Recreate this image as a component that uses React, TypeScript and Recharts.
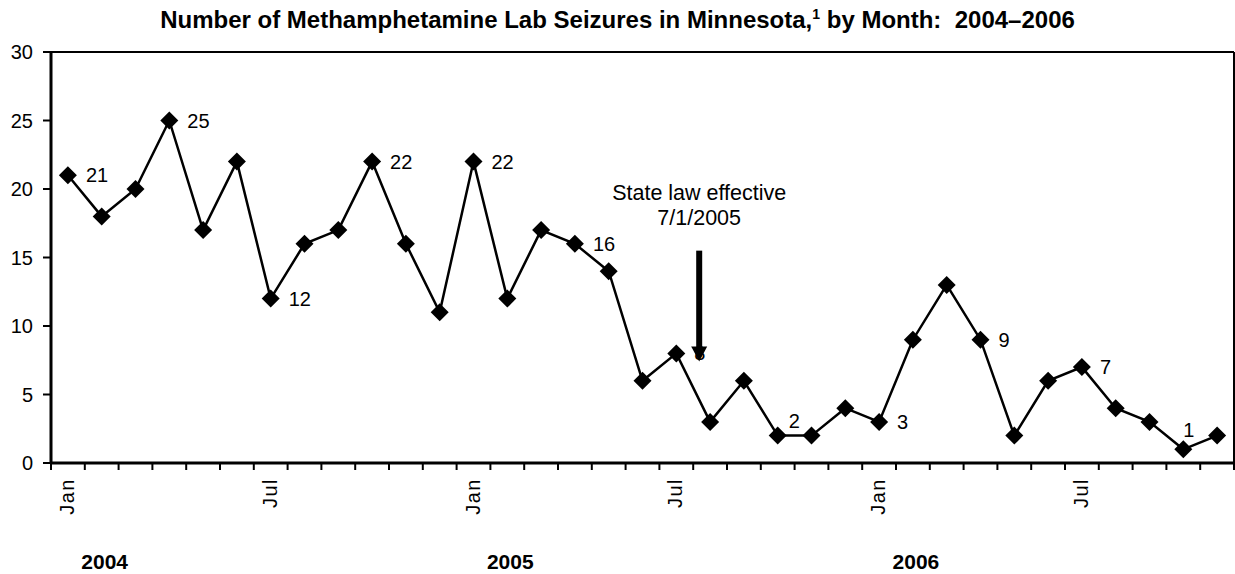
import { LabelList, Line, LineChart, ReferenceLine, XAxis, YAxis } from "recharts";

const MONTHS = ["Jan", "Feb", "Mar", "Apr", "May", "Jun", "Jul", "Aug", "Sep", "Oct", "Nov", "Dec"];
const YEARS = [2004, 2005, 2006];

const SEIZURES_2004 = [21, 18, 20, 25, 17, 22, 12, 16, 17, 22, 16, 11];
const SEIZURES_2005 = [22, 12, 17, 16, 14, 6, 8, 3, 6, 2, 2, 4];
const SEIZURES_2006 = [3, 9, 13, 9, 2, 6, 7, 4, 3, 1, 2];

const Y_TICKS = [0, 5, 10, 15, 20, 25, 30];
const TICK_MONTHS = ["Jan", "Jul"];
const LABELED_MONTHS = ["Jan", "Apr", "Jul", "Oct"];
const YEAR_LABEL_MONTH = "Feb";

const LAW_MONTH = "Jul 2005";
const LAW_TEXT = ["State law effective", "7/1/2005"];

const rows = YEARS.flatMap((year, yi) =>
  [SEIZURES_2004, SEIZURES_2005, SEIZURES_2006][yi].map((count, mi) => ({
    key: `${MONTHS[mi]} ${year}`,
    month: MONTHS[mi],
    year,
    count,
  })),
);
const LAST_KEY = rows[rows.length - 1].key;

const WIDTH = 1235;
const HEIGHT = 574;
const Y_AXIS_W = 51;
const X_AXIS_H = 111;
const FONT = '"Liberation Sans", Arial, sans-serif';
const HALF_BAND = (WIDTH - Y_AXIS_W - 1) / rows.length / 2;

// label nudges where the default right-hand spot would collide
const LABEL_NUDGE: Record<string, [number, number]> = {
  "Oct 2005": [11, -15],
  "Oct 2006": [0, -19],
};

function MonthTick(props: any) {
  const { x, y, payload } = props;
  const idx = rows.findIndex((r) => r.key === payload?.value);
  const row = rows[idx];
  if (!row) return null;
  const half = payload?.offset > 0 ? payload.offset : HALF_BAND;

  return (
    <g>
      <line x1={x - half} y1={y} x2={x - half} y2={y + 7} stroke="#000" strokeWidth={2} />
      {idx === rows.length - 1 ? (
        <line x1={x + half} y1={y} x2={x + half} y2={y + 7} stroke="#000" strokeWidth={2} />
      ) : null}
      {TICK_MONTHS.includes(row.month) ? (
        <text
          x={x + 6}
          y={y + 15}
          transform={`rotate(-90, ${x + 6}, ${y + 15})`}
          textAnchor="end"
          fontFamily={FONT}
          fontSize={20}
          letterSpacing={1.5}
          fill="#000"
        >
          {row.month}
        </text>
      ) : null}
      {row.month === YEAR_LABEL_MONTH ? (
        <text
          x={x + 3}
          y={y + 106}
          textAnchor="middle"
          fontFamily={FONT}
          fontSize={21}
          fontWeight="bold"
          fill="#000"
        >
          {row.year}
        </text>
      ) : null}
    </g>
  );
}

function Diamond(props: any) {
  const { cx, cy } = props;
  if (cx == null || cy == null) return null;
  const r = 9;
  return (
    <polygon
      points={`${cx},${cy - r} ${cx + r},${cy} ${cx},${cy + r} ${cx - r},${cy}`}
      fill="#000"
    />
  );
}

function renderCountLabel(props: any) {
  const { x, y, value, index } = props;
  const row = rows[index];
  if (!row || !LABELED_MONTHS.includes(row.month)) return null;
  const [dx, dy] = LABEL_NUDGE[row.key] ?? [18, 0];
  return (
    <text x={x + dx} y={y + dy} dy="0.35em" fontFamily={FONT} fontSize={20} fill="#000">
      {value}
    </text>
  );
}

function LawArrow(props: any) {
  const { x1: rawX, y1, y2 } = props;
  if (rawX == null) return null;
  // the law took effect on the 1st, so nudge the arrow a little past the Jul marker
  const x1 = rawX + 6;
  const head = 15;
  return (
    <g>
      <text x={x1} y={y1 - 51} textAnchor="middle" fontFamily={FONT} fontSize={21.5} fill="#000">
        {LAW_TEXT[0]}
      </text>
      <text x={x1} y={y1 - 26} textAnchor="middle" fontFamily={FONT} fontSize={21.5} fill="#000">
        {LAW_TEXT[1]}
      </text>
      <rect x={x1 - 3} y={y1} width={6} height={y2 - y1 - head + 1} fill="#000" />
      <polygon
        points={`${x1 - 8},${y2 - head} ${x1 + 8},${y2 - head} ${x1},${y2}`}
        fill="#000"
      />
    </g>
  );
}

export default function App() {
  return (
    <div style={{ position: "absolute", left: 0, top: 0, width: WIDTH, height: HEIGHT, background: "#fff" }}>
      <div
        style={{
          position: "absolute",
          top: 6,
          left: 0,
          width: WIDTH,
          textAlign: "center",
          fontFamily: FONT,
          fontWeight: "bold",
          fontSize: 24,
          lineHeight: "28px",
          color: "#000",
        }}
      >
        Number of Methamphetamine Lab Seizures in Minnesota,
        <sup style={{ fontSize: 14, lineHeight: 0 }}>1</sup> by Month:&nbsp; 2004–2006
      </div>
      <LineChart
        width={WIDTH}
        height={HEIGHT}
        data={rows}
        margin={{ top: 52, right: 1, bottom: 0, left: 0 }}
      >
        <XAxis
          dataKey="key"
          scale="band"
          interval={0}
          height={X_AXIS_H}
          tickSize={0}
          tickMargin={0}
          tickLine={false}
          axisLine={{ stroke: "#000", strokeWidth: 3 }}
          tick={<MonthTick />}
        />
        <YAxis
          width={Y_AXIS_W}
          domain={[0, 30]}
          ticks={Y_TICKS}
          interval={0}
          tickSize={8}
          tickMargin={10}
          axisLine={{ stroke: "#000", strokeWidth: 3 }}
          tickLine={{ stroke: "#000", strokeWidth: 2 }}
          tick={{ fill: "#000", fontSize: 20, fontFamily: FONT }}
        />
        {/* plot-area frame: top and right edges */}
        <ReferenceLine y={30} stroke="#000" strokeWidth={2} />
        <ReferenceLine x={LAST_KEY} position="end" stroke="#000" strokeWidth={2} />
        <Line
          dataKey="count"
          stroke="#000"
          strokeWidth={2.5}
          dot={<Diamond />}
          activeDot={false}
          isAnimationActive={false}
        >
          <LabelList dataKey="count" content={renderCountLabel} />
        </Line>
        <ReferenceLine
          segment={[
            { x: LAW_MONTH, y: 15.5 },
            { x: LAW_MONTH, y: 7.4 },
          ]}
          position="end"
          stroke="none"
          shape={<LawArrow />}
        />
      </LineChart>
    </div>
  );
}
